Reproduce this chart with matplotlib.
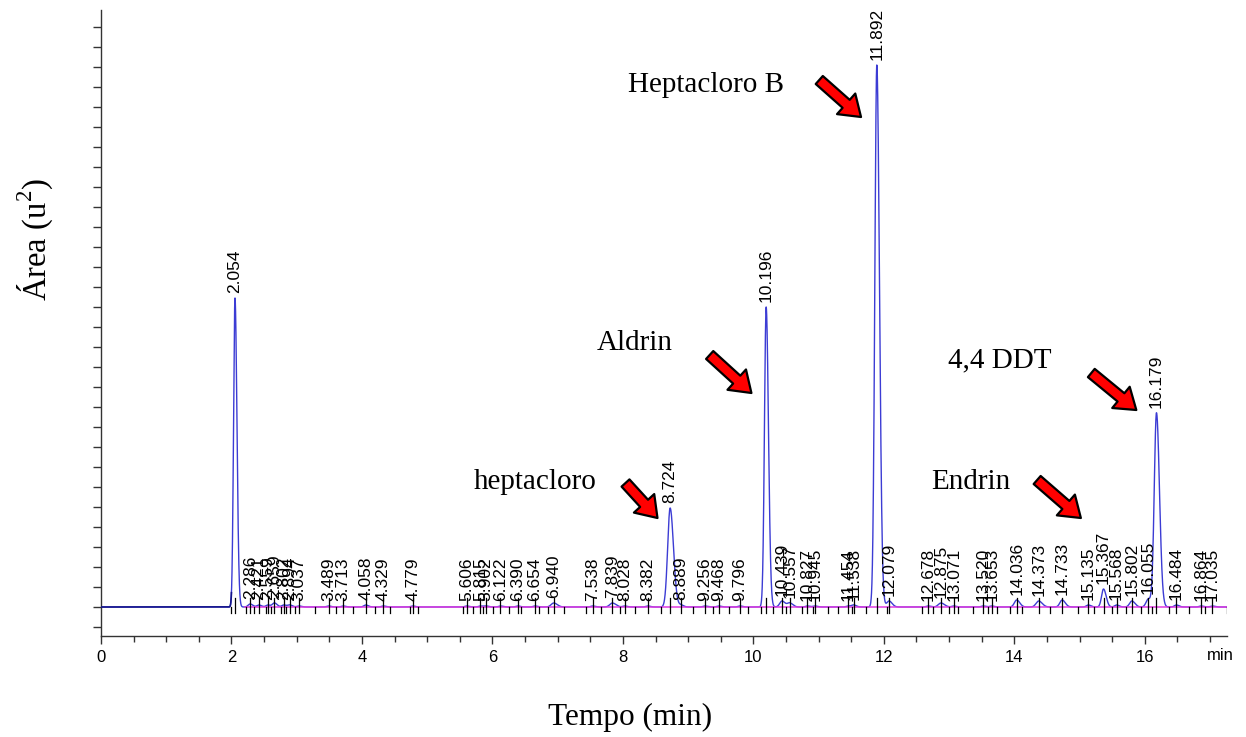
import numpy as np
import matplotlib.pyplot as plt
from matplotlib.ticker import MultipleLocator

plt.rcParams['mathtext.fontset'] = 'custom'
plt.rcParams['mathtext.rm'] = 'Liberation Serif'

# retention times (min) of the integrated peaks and their apex heights (arb. units)
rt = [2.054, 2.286, 2.421, 2.559, 2.659, 2.802, 2.894, 3.037, 3.489, 3.713,
      4.058, 4.329, 4.779, 5.606, 5.815, 5.902, 6.122, 6.390, 6.654, 6.940,
      7.538, 7.839, 8.028, 8.382, 8.724, 8.889, 9.256, 9.468, 9.796, 10.196,
      10.439, 10.557, 10.827, 10.945, 11.454, 11.538, 11.892, 12.079, 12.678, 12.875,
      13.071, 13.520, 13.653, 14.036, 14.373, 14.733, 15.135, 15.367, 15.568, 15.802,
      16.055, 16.179, 16.484, 16.864, 17.035]
height = [30.9, 0.3, 0.2, 0.2, 0.4, 0.2, 0.2, 0.1, 0.1, 0.1,
          0.2, 0.1, 0.1, 0.1, 0.1, 0.1, 0.1, 0.1, 0.1, 0.4,
          0.1, 0.4, 0.1, 0.1, 9.9, 0.2, 0.1, 0.1, 0.1, 30.0,
          0.6, 0.4, 0.1, 0.1, 0.1, 0.2, 54.2, 0.6, 0.1, 0.4,
          0.1, 0.1, 0.1, 0.7, 0.6, 0.7, 0.2, 1.8, 0.2, 0.6,
          0.8, 19.4, 0.2, 0.1, 0.1]
sigma = [0.022, 0.03, 0.03, 0.03, 0.03, 0.03, 0.03, 0.03, 0.03, 0.03,
         0.03, 0.03, 0.03, 0.03, 0.03, 0.03, 0.03, 0.03, 0.03, 0.04,
         0.03, 0.04, 0.03, 0.03, 0.038, 0.03, 0.03, 0.03, 0.03, 0.026,
         0.035, 0.035, 0.03, 0.03, 0.03, 0.03, 0.03, 0.035, 0.03, 0.04,
         0.03, 0.03, 0.03, 0.035, 0.04, 0.035, 0.03, 0.03, 0.03, 0.035,
         0.035, 0.034, 0.03, 0.03, 0.03]

# peak start/end marks of the integrator
bounds = [2.00, 2.22, 2.35, 2.53, 2.60, 2.76, 2.83, 2.97, 3.28, 3.60, 3.86, 4.20,
          4.43, 4.73, 4.86, 5.55, 5.70, 5.85, 6.01, 6.26, 6.44, 6.72, 6.85, 7.09,
          7.44, 7.67, 7.95, 8.18, 8.59, 9.07, 9.38, 9.63, 9.91, 10.12, 10.30, 10.50,
          10.74, 10.91, 11.15, 11.29, 11.51, 11.72, 12.05, 12.59, 12.75, 13.00, 13.14,
          13.36, 13.59, 13.74, 13.93, 14.12, 14.54, 14.97, 15.22, 15.50, 15.71, 15.94,
          16.11, 16.37, 16.68, 16.93, 17.26]

compounds = ['Heptacloro B', 'Aldrin', 'heptacloro', '4,4 DDT', 'Endrin']

t_end = 17.26
t = np.linspace(0, t_end, 12000)
signal = np.zeros_like(t)
for r, h, s in zip(rt, height, sigma):
    # slight tailing on the back side of each peak
    sw = np.where(t < r, s, s * 1.35)
    signal += h * np.exp(-0.5 * ((t - r) / sw) ** 2)

fig = plt.figure(figsize=(12.46, 7.37), dpi=100)
ax = fig.add_axes([101 / 1246, 1 - 636 / 737, (1227 - 101) / 1246, (636 - 10) / 737])

ax.plot(t, signal, color='#3c3cd4', lw=1.0, zorder=2)
pre = t < 2.0
ax.plot(t[pre], signal[pre], color='#16168a', lw=1.2, zorder=3)
ax.plot([2.2, t_end], [0.05, 0.05], color='#e03ce0', lw=1.1, zorder=3)

# retention time marks and labels
for r, h in zip(rt, height):
    ax.plot([r, r], [-0.6, 0.9], color='black', lw=0.9, zorder=4)
    ax.text(r, h + 0.5, f'{r:.3f}', rotation=90, ha='center', va='bottom',
            fontsize=12.5, family='Liberation Sans', zorder=5)
for b in bounds:
    ax.plot([b, b], [0, -0.6], color='black', lw=0.9, zorder=4)

# compound names with arrows towards their peaks
text_pos = [(9.28, 52.2), (8.18, 26.4), (6.65, 12.5), (13.78, 24.7), (13.34, 12.5)]
arrow_tail = [(11.01, 52.7), (9.33, 25.2), (8.04, 12.4), (15.18, 23.4), (14.35, 12.7)]
arrow_tip = [(11.65, 49.0), (9.97, 21.4), (8.53, 8.9), (15.87, 19.7), (15.02, 8.9)]
for name, tp, tail, tip in zip(compounds, text_pos, arrow_tail, arrow_tip):
    ax.text(tp[0], tp[1], name, ha='center', va='center', fontsize=21,
            family='Liberation Serif')
    ax.annotate('', xy=tip, xytext=tail,
                arrowprops=dict(arrowstyle='simple,head_width=1.8,head_length=1.3,tail_width=0.7',
                                mutation_scale=11, fc='#ff0000', ec='black', lw=1.6,
                                shrinkA=0, shrinkB=0), zorder=6)

ax.set_xlim(0, t_end)
ax.set_ylim(-2.9, 59.7)
ax.spines['top'].set_visible(False)
ax.spines['right'].set_visible(False)
for sp in ('left', 'bottom'):
    ax.spines[sp].set_color('#333333')
    ax.spines[sp].set_linewidth(1.0)

ax.xaxis.set_minor_locator(MultipleLocator(0.5))
ax.set_xticks(np.arange(0, 17, 2))
ax.set_xticklabels([str(v) for v in range(0, 17, 2)], family='Liberation Sans', fontsize=12)
ax.tick_params(axis='x', which='major', direction='out', length=6, width=1, color='#333333', pad=4)
ax.tick_params(axis='x', which='minor', direction='out', length=4, width=1, color='#333333')
ax.text(16.95, -4.9, 'min', ha='left', va='center', fontsize=12, family='Liberation Sans')

ax.yaxis.set_major_locator(MultipleLocator(2))
ax.set_yticklabels([])
ax.tick_params(axis='y', which='major', direction='out', length=6, width=1, color='#333333')

fig.text(35 / 1246, 1 - 240 / 737, r'Área (u$^{\mathrm{2}}$)', rotation=90, ha='center', va='center',
         fontsize=23.5, family='Liberation Serif')
fig.text(630 / 1246, 1 - 717 / 737, 'Tempo (min)', ha='center', va='center',
         fontsize=22.5, family='Liberation Serif')

fig.savefig('out.png', dpi=100, facecolor='white')
